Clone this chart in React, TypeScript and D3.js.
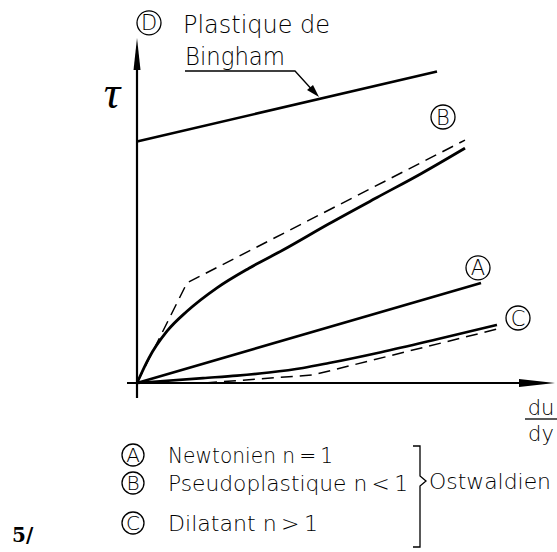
import React from "react";
import * as d3 from "d3";

// ---- data (shear rate du/dy vs shear stress tau, arbitrary units) ----
const binghamX = [0, 7.5];
const binghamY = [6.9, 8.9];
const newtonX = [0, 8.6];
const newtonY = [0, 2.86];
const pseudoX = [0, 0.3, 0.75, 1.25, 2, 2.8, 3.65, 4.8, 6, 7.1, 8.2];
const pseudoY = [0, 0.72, 1.48, 2.05, 2.72, 3.28, 3.8, 4.55, 5.3, 5.98, 6.71];
const pseudoTanX = [0, 1.25, 8.2];
const pseudoTanY = [0, 2.86, 6.94];
const dilatX = [0, 1.65, 2.5, 3.3, 4.15, 4.8, 6.1, 7.5, 9.0];
const dilatY = [0, 0.14, 0.21, 0.3, 0.43, 0.57, 0.88, 1.25, 1.66];
const dilatTanX = [1.7, 4.4, 9.0];
const dilatTanY = [0, 0.23, 1.54];

const curveLetters = ["D", "B", "A", "C"];
const curveLabelX = [0.3, 7.65, 8.525, 9.525];
const curveLabelY = [10.29, 7.6, 3.29, 1.857];

const legendLetters = ["A", "B", "C"];
const legendTexts = ["Newtonien n\u2009=\u20091", "Pseudoplastique n\u2009<\u20091", "Dilatant  n\u2009>\u20091"];
const groupLabel = "Ostwaldien";
const binghamLabel = ["Plastique de", "Bingham"];

const W = 557;
const H = 552;
const FONT = "'DejaVu Sans', 'Liberation Sans', sans-serif";

const xs = d3.scaleLinear().domain([0, 10]).range([137, 537]);
const ys = d3.scaleLinear().domain([0, 10]).range([383, 33]);

const zip = (a: number[], b: number[]) => a.map((v, i) => [v, b[i]] as [number, number]);
const lin = d3.line<[number, number]>().x((d) => xs(d[0])).y((d) => ys(d[1]));
const smooth = d3
  .line<[number, number]>()
  .x((d) => xs(d[0]))
  .y((d) => ys(d[1]))
  .curve(d3.curveMonotoneX);

function Circled({ cx, cy, letter, r = 12, fs = 21 }: { cx: number; cy: number; letter: string; r?: number; fs?: number }) {
  return (
    <g>
      <circle cx={cx} cy={cy} r={r} fill="none" stroke="#000" strokeWidth={1.3} />
      <text x={cx} y={cy + fs * 0.36} textAnchor="middle" fontSize={fs} fontFamily={FONT} fontWeight={300}>
        {letter}
      </text>
    </g>
  );
}

export default function App() {
  const x0 = xs(0);
  const y0 = ys(0);
  const yTop = ys(9.86);
  const xRight = xs(10.45);
  const legendRowY = [455, 483, 523];
  const legendWidths = [165, 240, 150];

  return (
    <svg width={W} height={H} style={{ position: "absolute", left: 0, top: 0, background: "#fff" }}>
      <rect width={W} height={H} fill="#fff" />
      {/* axes */}
      <line x1={x0} y1={ys(-0.43)} x2={x0} y2={yTop + 20} stroke="#000" strokeWidth={2.2} />
      <path d={`M${x0},${yTop} L${x0 - 3.5},${yTop + 32} L${x0 + 3.5},${yTop + 32} Z`} fill="#000" />
      <line x1={xs(-0.25)} y1={y0} x2={xRight - 20} y2={y0} stroke="#000" strokeWidth={2.2} />
      <path d={`M${xRight},${y0} L${xRight - 36},${y0 - 4} L${xRight - 36},${y0 + 4} Z`} fill="#000" />

      {/* curves */}
      <path d={lin(zip(binghamX, binghamY)) || ""} fill="none" stroke="#000" strokeWidth={2.6} />
      <path d={lin(zip(newtonX, newtonY)) || ""} fill="none" stroke="#000" strokeWidth={2.6} />
      <path d={smooth(zip(pseudoX, pseudoY)) || ""} fill="none" stroke="#000" strokeWidth={2.8} />
      <path d={lin(zip(pseudoTanX, pseudoTanY)) || ""} fill="none" stroke="#000" strokeWidth={1.5} strokeDasharray="12 7" />
      <path d={smooth(zip(dilatX, dilatY)) || ""} fill="none" stroke="#000" strokeWidth={2.6} />
      <path d={lin(zip(dilatTanX, dilatTanY)) || ""} fill="none" stroke="#000" strokeWidth={1.5} strokeDasharray="12 7" />

      {/* curve labels */}
      {curveLetters.map((l, i) => (
        <Circled key={l} cx={xs(curveLabelX[i])} cy={ys(curveLabelY[i])} letter={l} />
      ))}

      {/* tau */}
      <text x={112} y={108} textAnchor="middle" fontSize={46} fontStyle="italic" fontFamily="'Liberation Serif', serif">
        τ
      </text>

      {/* Bingham label */}
      <text x={183} y={33} fontSize={24} fontFamily={FONT} fontWeight={300} textLength={147} lengthAdjust="spacingAndGlyphs">
        {binghamLabel[0]}
      </text>
      <text x={185} y={65} fontSize={24} fontFamily={FONT} fontWeight={300} textLength={100} lengthAdjust="spacingAndGlyphs">
        {binghamLabel[1]}
      </text>
      <polyline points="185,71 295,71 315,93" fill="none" stroke="#000" strokeWidth={1.3} />
      <path d="M319,97 L307,90 L313,85 Z" fill="#000" />

      {/* du/dy */}
      <text x={541} y={415} textAnchor="middle" fontSize={21} fontFamily={FONT} fontWeight={300}>
        du
      </text>
      <line x1={525} y1={419} x2={557} y2={419} stroke="#000" strokeWidth={1.3} />
      <text x={541} y={441} textAnchor="middle" fontSize={21} fontFamily={FONT} fontWeight={300}>
        dy
      </text>

      {/* legend */}
      {legendLetters.map((l, i) => (
        <g key={l}>
          <Circled cx={133} cy={legendRowY[i]} letter={l} r={11} fs={20} />
          <text
            x={168}
            y={legendRowY[i] + 8}
            fontSize={22}
            fontFamily={FONT}
            fontWeight={300}
            textLength={legendWidths[i]}
            lengthAdjust="spacingAndGlyphs"
          >
            {legendTexts[i]}
          </text>
        </g>
      ))}
      <path
        d="M413,446 L420,446 L420,476 L426,481 L420,486 L420,547 L413,547"
        fill="none"
        stroke="#000"
        strokeWidth={1.3}
      />
      <text x={429} y={489} fontSize={22} fontFamily={FONT} fontWeight={300} textLength={122} lengthAdjust="spacingAndGlyphs">
        {groupLabel}
      </text>

      <text x={12} y={542} fontSize={20} fontWeight="bold" fontFamily="'DejaVu Serif', serif">
        5/
      </text>
    </svg>
  );
}
